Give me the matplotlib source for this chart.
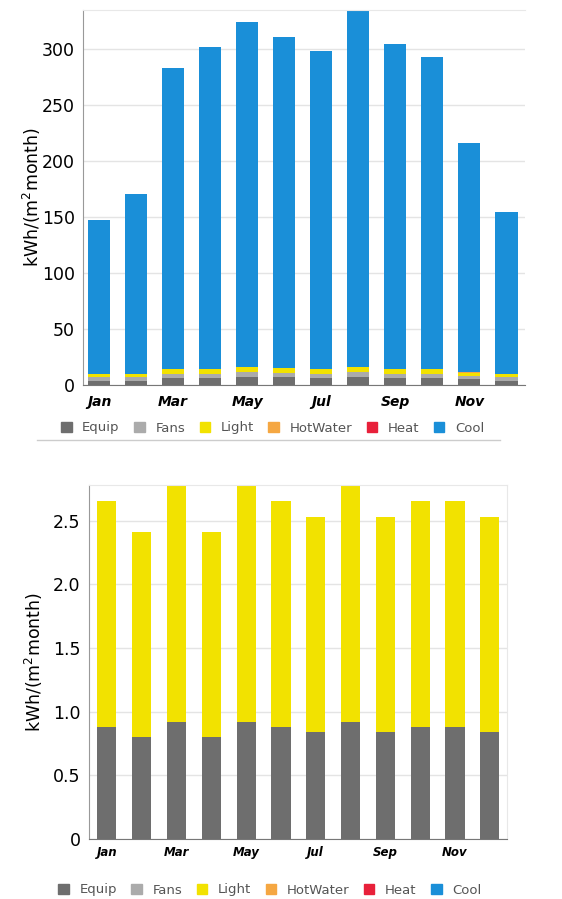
import numpy as np
import matplotlib.pyplot as plt
from matplotlib.lines import Line2D
from matplotlib.patches import Patch

months = ['Jan', 'Feb', 'Mar', 'Apr', 'May', 'Jun', 'Jul', 'Aug', 'Sep', 'Oct', 'Nov', 'Dec']
series = ['Equip', 'Fans', 'Light', 'HotWater', 'Heat', 'Cool']
colors = ['#6e6e6e', '#ababab', '#f2e200', '#f5a742', '#e8203a', '#1a8fd8']

# верхний график
top_equip = [4, 4, 6, 6, 7, 7, 6, 7, 6, 6, 5, 4]
top_fans = [3, 3, 4, 4, 5, 4, 4, 5, 4, 4, 3, 3]
top_light = [3, 3, 4, 4, 4, 4, 4, 4, 4, 4, 3, 3]
top_hotwater = [0.3] * 12
top_heat = [0] * 12
top_total = [147, 171, 283, 302, 324, 311, 298, 340, 305, 293, 216, 155]

# нижний график
bot_equip = [0.88, 0.80, 0.92, 0.80, 0.92, 0.88, 0.84, 0.92, 0.84, 0.88, 0.88, 0.84]
bot_total = [2.65, 2.41, 2.85, 2.41, 2.85, 2.65, 2.53, 2.85, 2.53, 2.65, 2.65, 2.53]
bot_fans = [0] * 12
bot_hotwater = [0] * 12
bot_heat = [0] * 12
bot_cool = [0] * 12

top_cool = [t - e - f - l - h for t, e, f, l, h in zip(top_total, top_equip, top_fans, top_light, top_hotwater)]
bot_light = [t - e for t, e in zip(bot_total, bot_equip)]

fig = plt.figure(figsize=(5.62, 8.99), dpi=100)
ax1 = fig.add_axes([0.148, 0.5717, 0.786, 0.4172])
ax2 = fig.add_axes([0.158, 0.0667, 0.744, 0.394])

x = np.arange(12)


def draw(ax, data, width, mfs, mpad):
    bottom = np.zeros(12)
    for vals, c in zip(data, colors):
        vals = np.array(vals, dtype=float)
        ax.bar(x, vals, width, bottom=bottom, color=c, zorder=2)
        bottom += vals
    ax.set_xticks(x[::2])
    ax.set_xticklabels(months[::2], fontsize=mfs, fontweight='bold', style='italic')
    ax.tick_params(axis='x', length=0, pad=mpad)
    ax.tick_params(axis='y', length=0, labelsize=12.5, pad=6)
    ax.grid(axis='y', color='#e4e4e4', linewidth=1, zorder=0)
    ax.set_ylabel('kWh/(m$^2$month)', fontsize=12.5)
    for s in ['top', 'right']:
        ax.spines[s].set_color('#e8e8e8')
    ax.spines['left'].set_color('#999999')
    ax.spines['bottom'].set_color('#777777')


draw(ax1, [top_equip, top_fans, top_light, top_hotwater, top_heat, top_cool], 0.6, 10, 7)
ax1.set_xlim(-0.43, 11.5)
ax1.set_ylim(0, 335)
ax1.set_yticks([0, 50, 100, 150, 200, 250, 300])
ax1.spines['right'].set_visible(False)
ax1.yaxis.set_label_coords(-0.09, 0.5)

draw(ax2, [bot_equip, bot_fans, bot_light, bot_hotwater, bot_heat, bot_cool], 0.55, 8.5, 5)
ax2.set_xlim(-0.52, 11.49)
ax2.set_ylim(0, 2.78)
ax2.set_yticks([0, 0.5, 1.0, 1.5, 2.0, 2.5])
ax2.set_yticklabels(['0', '0.5', '1.0', '1.5', '2.0', '2.5'])
ax2.yaxis.set_label_coords(-0.105, 0.5)

handles = [Patch(color=c) for c in colors]
for ypos, xpos in [(428, 0.485), (890, 0.48)]:
    leg = fig.legend(handles, series, loc='center', ncol=6, frameon=False,
                     bbox_to_anchor=(xpos, 1 - ypos / 899), fontsize=9.5,
                     handlelength=0.8, handleheight=0.8, columnspacing=1.1, handletextpad=0.8)
    for t in leg.get_texts():
        t.set_color('#555555')

fig.add_artist(Line2D([37 / 562, 500 / 562], [1 - 440 / 899, 1 - 440 / 899],
                      color='#cccccc', linewidth=1))

plt.savefig('out.png', dpi=100)
